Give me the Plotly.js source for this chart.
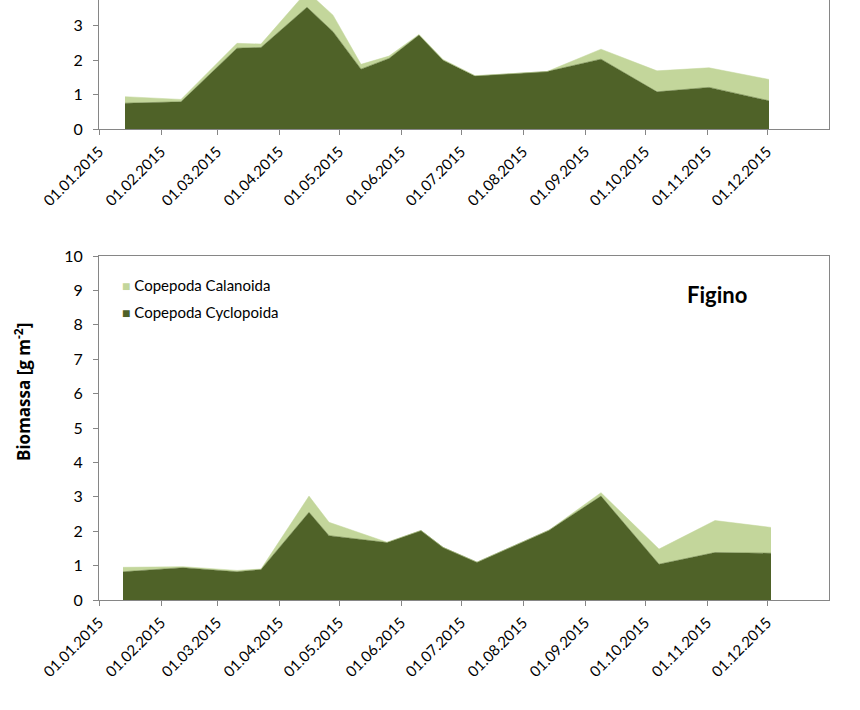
<!DOCTYPE html>
<html>
<head>
<meta charset="utf-8">
<script src="https://cdn.plot.ly/plotly-3.0.1.min.js"></script>
<style>html,body{margin:0;padding:0;background:#fff;}#chart{width:860px;height:710px;}</style>
</head>
<body>
<div id="chart"></div>
<script>
// ---- Data ----
const seriesNames = ["Copepoda Cyclopoida", "Copepoda Calanoida"];
const stationLabel = "Figino";
const yTitle = "Biomassa [g m<sup>-2</sup>]";
const monthTicks = ["2015-01-01","2015-02-01","2015-03-01","2015-04-01","2015-05-01","2015-06-01",
                    "2015-07-01","2015-08-01","2015-09-01","2015-10-01","2015-11-01","2015-12-01"];

// upper (cropped) station
const topDates = ["2015-01-14","2015-02-11","2015-03-11","2015-03-23","2015-04-15","2015-04-28",
                  "2015-05-12","2015-05-26","2015-06-10","2015-06-22","2015-07-08","2015-08-13",
                  "2015-09-09","2015-10-07","2015-11-02","2015-12-02"];
const topCyclopoida = [0.75,0.79,2.35,2.37,3.54,2.83,1.74,2.05,2.73,2.00,1.54,1.67,2.03,1.08,1.21,0.82];
const topCalanoida  = [0.19,0.07,0.14,0.10,0.46,0.48,0.14,0.07,0.02,0.02,0.01,0.00,0.29,0.61,0.57,0.62];

// Figino
const figDates = ["2015-01-13","2015-02-12","2015-03-11","2015-03-23","2015-04-16","2015-04-26",
                  "2015-05-25","2015-06-11","2015-06-22","2015-07-09","2015-08-14","2015-09-09",
                  "2015-10-08","2015-11-05","2015-12-03"];
const figCyclopoida = [0.82,0.94,0.82,0.89,2.55,1.87,1.67,2.02,1.53,1.10,2.03,3.02,1.04,1.38,1.36];
const figCalanoida  = [0.13,0.03,0.04,0.01,0.47,0.39,0.01,0.00,0.00,0.00,0.00,0.10,0.44,0.93,0.75];

// ---- Styles ----
const darkGreen = "#4f6228";
const lightGreen = "#c3d69b";
const axisGray = "#868686";
const FONT = "Lato, 'Open Sans', sans-serif";
const TITLEFONT = "'Open Sans', Lato, sans-serif";

function area(x, y, name, color, xa, ya, group) {
  return {
    type: "scatter", mode: "lines", x: x, y: y, name: name,
    stackgroup: group, xaxis: xa, yaxis: ya,
    line: {width: 0.5, color: color, shape: "linear"},
    fillcolor: color, showlegend: false, hoverinfo: "x+y+name"
  };
}

const data = [
  area(topDates, topCyclopoida, seriesNames[0], darkGreen, "x", "y", "a"),
  area(topDates, topCalanoida, seriesNames[1], lightGreen, "x", "y", "a"),
  area(figDates, figCyclopoida, seriesNames[0], darkGreen, "x2", "y2", "b"),
  area(figDates, figCalanoida, seriesNames[1], lightGreen, "x2", "y2", "b")
];

const W = 860, H = 710;
const xDom = [99 / W, 829 / W];

function xAxis(anchor, mirror) {
  return {
    domain: xDom, anchor: anchor, type: "date",
    range: ["2015-01-01", "2016-01-01"],
    tickvals: monthTicks, tickformat: "%d.%m.%Y", tickangle: -45,
    ticks: "outside", ticklen: 5, tickwidth: 1, tickcolor: axisGray,
    showline: true, linecolor: axisGray, linewidth: 1, mirror: mirror,
    showgrid: false, zeroline: false, ticklabelstandoff: 2,
    tickfont: {family: FONT, size: 15, color: "#000"}
  };
}
function yAxis(anchor, domain, range) {
  return {
    domain: domain, anchor: anchor, range: range, dtick: 1, tick0: 0,
    ticks: "outside", ticklen: 5, tickwidth: 1, tickcolor: axisGray,
    showline: true, linecolor: axisGray, linewidth: 1, mirror: true,
    showgrid: false, zeroline: false, ticklabelstandoff: 7,
    tickfont: {family: FONT, size: 16, color: "#000"}
  };
}

const layout = {
  width: W, height: H,
  margin: {l: 0, r: 0, t: 0, b: 0},
  paper_bgcolor: "#fff", plot_bgcolor: "#fff",
  showlegend: false,
  font: {family: FONT, color: "#000"},
  xaxis: xAxis("y", false),
  yaxis: yAxis("x", [1 - 129 / H, 1], [0, 3.75]),
  xaxis2: xAxis("y2", true),
  yaxis2: yAxis("x2", [(H - 600) / H, (H - 256) / H], [0, 10]),
  annotations: [
    {xref: "paper", yref: "paper", x: 22 / W, y: 1 - 392 / H, textangle: -90,
     xanchor: "center", yanchor: "middle",
     text: "<b>" + yTitle + "</b>", showarrow: false,
     font: {family: TITLEFONT, size: 17, color: "#000"}},
    {xref: "paper", yref: "paper", x: 717 / W, y: 1 - 294 / H, xanchor: "center", yanchor: "middle",
     text: "<b>" + stationLabel + "</b>", showarrow: false,
     font: {family: FONT, size: 22, color: "#000"}},
    {xref: "paper", yref: "paper", x: 120 / W, y: 1 - 285 / H, xanchor: "left", yanchor: "middle",
     text: '<span style="color:' + lightGreen + ';font-size:14px">■</span> ' + seriesNames[1],
     showarrow: false, font: {family: FONT, size: 15, color: "#000"}},
    {xref: "paper", yref: "paper", x: 120 / W, y: 1 - 312 / H, xanchor: "left", yanchor: "middle",
     text: '<span style="color:' + darkGreen + ';font-size:14px">■</span> ' + seriesNames[0],
     showarrow: false, font: {family: FONT, size: 15, color: "#000"}}
  ]
};

Plotly.newPlot("chart", data, layout, {displayModeBar: false, staticPlot: true});
</script>
</body>
</html>
